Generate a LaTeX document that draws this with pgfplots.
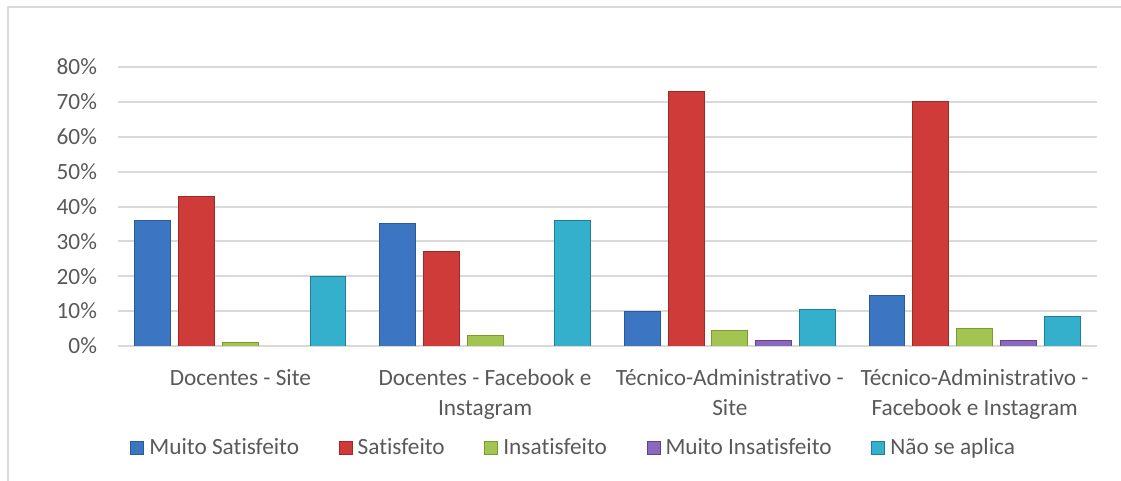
\documentclass[border=0pt]{standalone}
\usepackage{fontspec}
\setmainfont{Carlito}[Ligatures=NoCommon]
\usepackage{pgfplots}
\pgfplotsset{compat=1.18}

\definecolor{txtgray}{HTML}{595959}
\definecolor{gridgray}{HTML}{D9D9D9}
\definecolor{bluemain}{HTML}{3C76C3}
\definecolor{bluedark}{HTML}{2A5A99}
\definecolor{redmain}{HTML}{CE3B38}
\definecolor{reddark}{HTML}{9E2A28}
\definecolor{greenmain}{HTML}{A4C452}
\definecolor{greendark}{HTML}{7A9A34}
\definecolor{purpmain}{HTML}{8A68BE}
\definecolor{purpdark}{HTML}{5E4585}
\definecolor{cyanmain}{HTML}{34B0CD}
\definecolor{cyandark}{HTML}{1F7F98}

\begin{document}
\begin{tikzpicture}
\useasboundingbox (0,0) rectangle (560.5bp,240.5bp);
\draw[gridgray, line width=0.8bp] (4bp,-2bp) -- (4bp,237bp) -- (565bp,237bp);
\begin{axis}[
	at={(59bp,67.5bp)}, anchor=south west,
	scale only axis,
	width=489.5bp, height=139.5bp,
	ybar, bar width=0.147,
	xmin=-0.5, xmax=3.5,
	ymin=0, ymax=80,
	ytick={0,10,...,80},
	xtick={0,1,2,3},
	xticklabels={Docentes - Site, Docentes - Facebook e\\Instagram, Técnico-Administrativo -\\Site, Técnico-Administrativo -\\Facebook e Instagram},
	yticklabel={\pgfmathprintnumber{\tick}\%},
	/pgf/number format/assume math mode=true,
	ymajorgrids, grid style={gridgray, line width=1bp},
	axis line style={draw=none},
	major tick length=0pt,
	tick label style={text=txtgray, font=\fontsize{11.65bp}{15bp}\selectfont},
	yticklabel style={xshift=-7bp},
	xticklabel style={align=center, yshift=-8bp},
	legend columns=-1,
	legend style={at={(0.0123,-0.3656)}, anchor=west, draw=none, fill=none,
		inner sep=0pt, font=\fontsize{11.65bp}{15bp}\selectfont,
		nodes={inner sep=0pt, text=txtgray},
		/tikz/every odd column/.append style={column sep=2.5bp},
		/tikz/every even column/.append style={column sep=19.8bp}},
	legend image code/.code={\path[#1] (0bp,-3.25bp) rectangle (6.5bp,3.25bp);},
]
% Muito Satisfeito
\addplot[bar shift=-0.358, draw=bluedark, line width=0.5bp, fill=bluemain]
	coordinates {(0,36) (1,35) (2,10) (3,14.5)};
% Satisfeito
\addplot[bar shift=-0.179, draw=reddark, line width=0.5bp, fill=redmain]
	coordinates {(0,43) (1,27) (2,73) (3,70)};
% Insatisfeito
\addplot[bar shift=0, draw=greendark, line width=0.5bp, fill=greenmain]
	coordinates {(0,1) (1,3) (2,4.5) (3,5)};
% Muito Insatisfeito
\addplot[bar shift=0.179, draw=purpdark, line width=0.5bp, fill=purpmain]
	coordinates {(2,1.7) (3,1.7)};
% Nao se aplica
\addplot[bar shift=0.358, draw=cyandark, line width=0.5bp, fill=cyanmain]
	coordinates {(0,20) (1,36) (2,10.5) (3,8.5)};
\legend{Muito Satisfeito, Satisfeito, Insatisfeito, Muito Insatisfeito, Não se aplica}
\end{axis}
\end{tikzpicture}
\end{document}
